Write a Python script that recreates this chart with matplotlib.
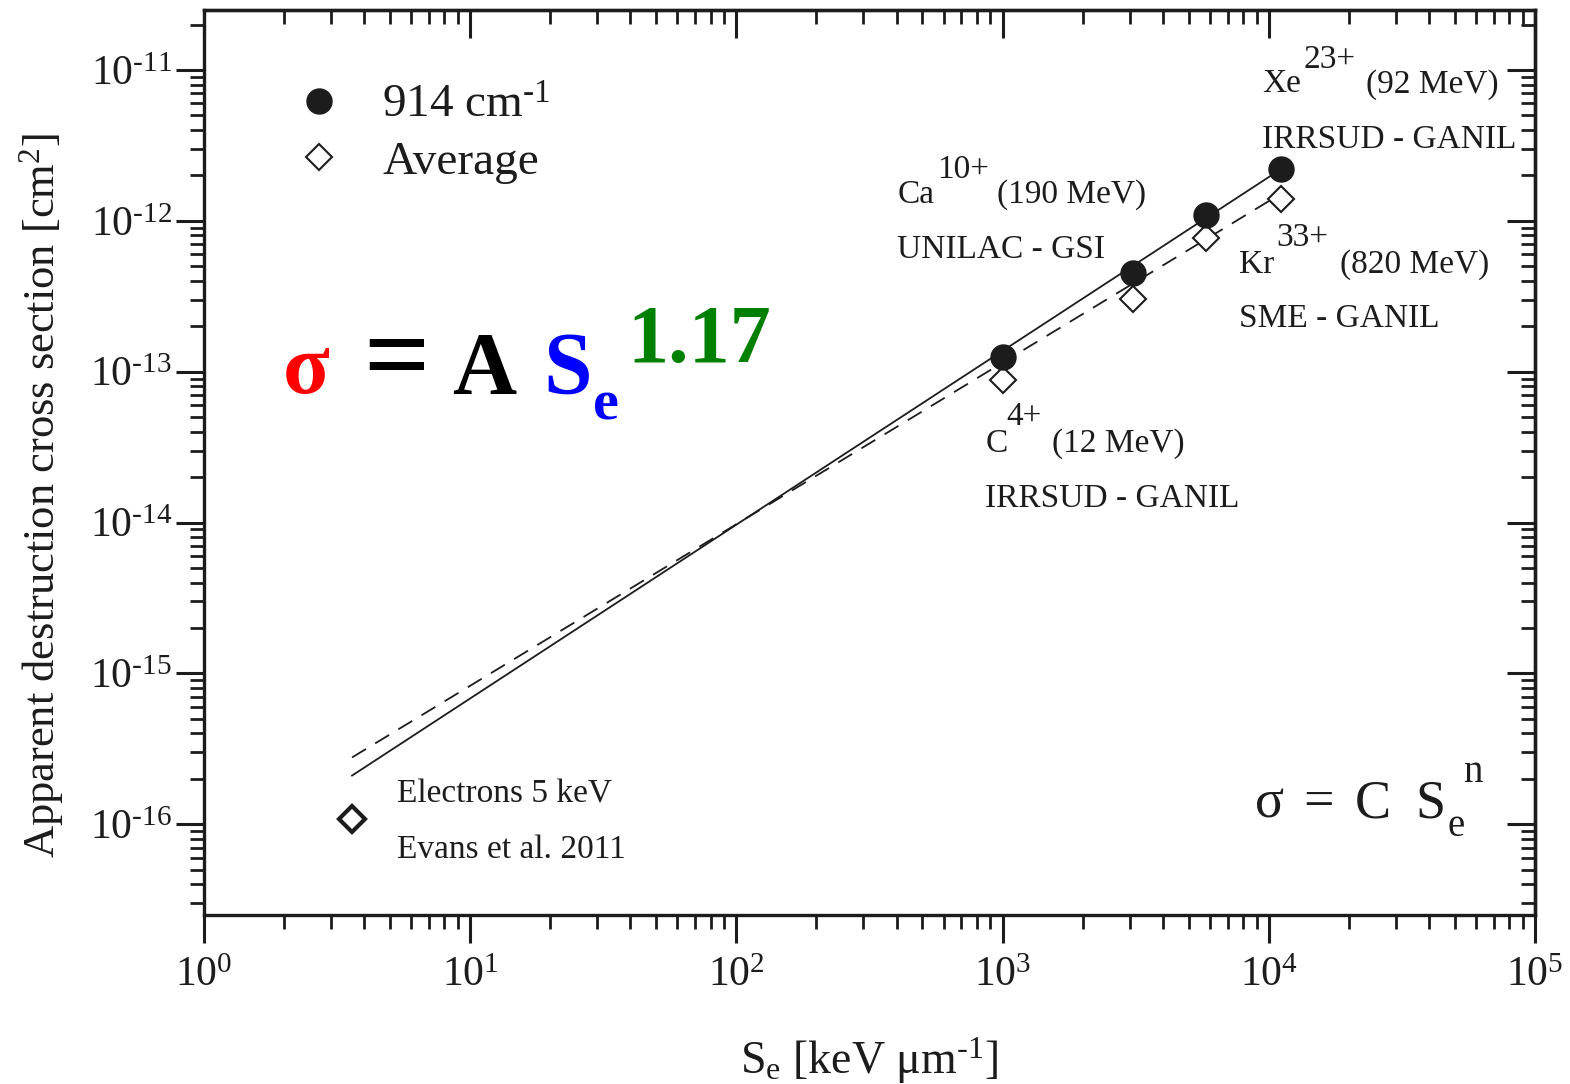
import math
import matplotlib
matplotlib.use("Agg")
import matplotlib.pyplot as plt
from matplotlib.ticker import LogLocator, NullFormatter, FuncFormatter, FixedLocator

plt.rcParams['font.family'] = ['Liberation Serif', 'DejaVu Serif']
plt.rcParams['mathtext.fontset'] = 'custom'
plt.rcParams['mathtext.rm'] = 'Liberation Serif'
plt.rcParams['mathtext.it'] = 'Liberation Serif:italic'
plt.rcParams['mathtext.bf'] = 'Liberation Serif:bold'

# Electronic stopping power (keV/um) and apparent destruction cross sections (cm^2)
se_ions = [1000, 3090, 5800, 11100]
sigma_914 = [1.26e-13, 4.54e-13, 1.10e-12, 2.21e-12]
sigma_avg = [8.77e-14, 3.05e-13, 7.74e-13, 1.40e-12]
se_electrons = [3.6]
sigma_electrons = [1.08e-16]

# Power-law fits (straight lines on log-log axes), given by their end points
fit_914_x = [3.6, 11100]
fit_914_y = [2.1e-16, 2.2e-12]
fit_avg_x = [3.6, 10200]
fit_avg_y = [2.77e-16, 1.38e-12]

x_limits = (1, 1e5)
y_limits = (2.5e-17, 2.5e-11)
x_decades = [1e0, 1e1, 1e2, 1e3, 1e4, 1e5]
y_decades = [1e-16, 1e-15, 1e-14, 1e-13, 1e-12, 1e-11]

INK = '#1c1c1c'
HYPHEN = '\u2010'

fig = plt.figure(figsize=(15.70, 10.84), dpi=100)
ax = fig.add_axes([0.1299, 0.1559, 0.8478, 0.8349])
ax.set_xscale('log')
ax.set_yscale('log')
ax.set_xlim(*x_limits)
ax.set_ylim(*y_limits)

ax.plot(fit_914_x, fit_914_y, '-', color=INK, lw=1.3, zorder=2)
ax.plot(fit_avg_x, fit_avg_y, '--', color=INK, lw=1.3, dashes=(9, 6), zorder=2)

h1, = ax.plot(se_ions, sigma_914, 'o', ms=18, color=INK, mec=INK,
              label='914 cm$^{\\mathregular{%s1}}$' % HYPHEN, zorder=4)
h2, = ax.plot(se_ions, sigma_avg, 'D', ms=13, mfc='white', mec=INK, mew=1.5,
              label='Average', zorder=3)
ax.plot(se_electrons, sigma_electrons, 'D', ms=13.5, mfc='white', mec=INK, mew=3.0, zorder=3)

leg = ax.legend(handles=[h1, h2], loc='upper left', bbox_to_anchor=(0.0684, 0.918),
                frameon=False, fontsize=34, handlelength=1.0, handletextpad=0.85,
                borderpad=0, borderaxespad=0, labelspacing=0.28)
for t in leg.get_texts():
    t.set_color(INK)

# axis frame and ticks
for s in ax.spines.values():
    s.set_linewidth(2.4)
    s.set_color(INK)

def pow_label(v, pos):
    e = int(round(math.log10(v)))
    txt = str(e).replace('-', HYPHEN)
    return '10$^{\\mathregular{%s}}$' % txt

minor_subs = [2, 3, 4, 5, 6, 7, 8, 9]
ax.xaxis.set_major_locator(FixedLocator(x_decades))
ax.yaxis.set_major_locator(FixedLocator(y_decades))
ax.xaxis.set_minor_locator(LogLocator(base=10, subs=minor_subs, numticks=20))
ax.yaxis.set_minor_locator(LogLocator(base=10, subs=minor_subs, numticks=20))
ax.xaxis.set_major_formatter(FuncFormatter(pow_label))
ax.yaxis.set_major_formatter(FuncFormatter(pow_label))
ax.xaxis.set_minor_formatter(NullFormatter())
ax.yaxis.set_minor_formatter(NullFormatter())
ax.tick_params(which='major', direction='out', length=20, width=2.2, color=INK,
               labelsize=30, labelcolor=INK, top=False, right=False)
ax.tick_params(which='minor', direction='out', length=10, width=2.0, color=INK,
               top=False, right=False)
ax.tick_params(axis='x', which='major', pad=10)
ax.tick_params(axis='y', which='major', pad=3)

top = ax.secondary_xaxis('top')
right = ax.secondary_yaxis('right')
top.xaxis.set_major_locator(FixedLocator(x_decades))
right.yaxis.set_major_locator(FixedLocator(y_decades))
for sec, axis in ((top, top.xaxis), (right, right.yaxis)):
    axis.set_minor_locator(LogLocator(base=10, subs=minor_subs, numticks=20))
    axis.set_major_formatter(NullFormatter())
    axis.set_minor_formatter(NullFormatter())
    sec.tick_params(which='major', direction='in', length=20, width=2.2, color=INK)
    sec.tick_params(which='minor', direction='in', length=10, width=2.0, color=INK)
    for s in sec.spines.values():
        s.set_linewidth(2.4)
        s.set_color(INK)

ax.set_xlabel('S$_{\\mathregular{e}}$ [keV μm$^{\\mathregular{%s1}}$]' % HYPHEN,
              fontsize=33, color=INK)
ax.xaxis.set_label_coords(0.5, -0.133)
ax.set_ylabel('Apparent destruction cross section [cm$^{\\mathregular{2}}$]', fontsize=32,
              color=INK)
ax.yaxis.set_label_coords(-0.104, 0.464)

# ion beam annotations
def note(x, y, s, size=24, **kw):
    ax.text(x, y, s, transform=ax.transAxes, fontsize=size, color=INK,
            ha='left', va='center', **kw)

note(0.795, 0.918, 'Xe')
note(0.826, 0.945, '23+')
note(0.873, 0.918, '(92 MeV)')
note(0.795, 0.857, 'IRRSUD - GANIL')

note(0.521, 0.796, 'Ca')
note(0.551, 0.823, '10+')
note(0.596, 0.796, '(190 MeV)')
note(0.521, 0.735, 'UNILAC - GSI')

note(0.778, 0.719, 'Kr')
note(0.806, 0.748, '33+')
note(0.8535, 0.719, '(820 MeV)')
note(0.778, 0.659, 'SME - GANIL')

note(0.587, 0.521, 'C')
note(0.603, 0.550, '4+')
note(0.637, 0.521, '(12 MeV)')
note(0.587, 0.460, 'IRRSUD - GANIL')

note(0.145, 0.133, 'Electrons 5 keV')
note(0.145, 0.072, 'Evans et al. 2011')

# generic power law
law = dict(transform=ax.transAxes, color=INK, ha='left', va='baseline')
ax.text(0.7896, 0.108, 'σ', fontsize=39, **law)
ax.text(0.8257, 0.108, '=', fontsize=39, **law)
ax.text(0.8647, 0.108, 'C', fontsize=39, **law)
ax.text(0.9098, 0.108, 'S', fontsize=39, **law)
ax.text(0.9346, 0.0874, 'e', fontsize=28, **law)
ax.text(0.9459, 0.1470, 'n', fontsize=28, **law)

# fitted exponent, highlighted
big = dict(transform=ax.transAxes, fontweight='bold', ha='left', va='baseline')
ax.text(0.0594, 0.5768, 'σ', color='#ff0000', fontsize=62, **big)
ax.text(0.1195, 0.5768, '=', color='black', fontsize=84, **big)
ax.text(0.1863, 0.5768, 'A', color='black', fontsize=64, **big)
ax.text(0.2547, 0.5768, 'S', color='#0000ff', fontsize=63, **big)
ax.text(0.2923, 0.547, 'e', color='#0000ff', fontsize=42, **big)
ax.text(0.3178, 0.611, '1.17', color='#008000', fontsize=59, **big)

fig.savefig('out.png', dpi=100, facecolor='white')
